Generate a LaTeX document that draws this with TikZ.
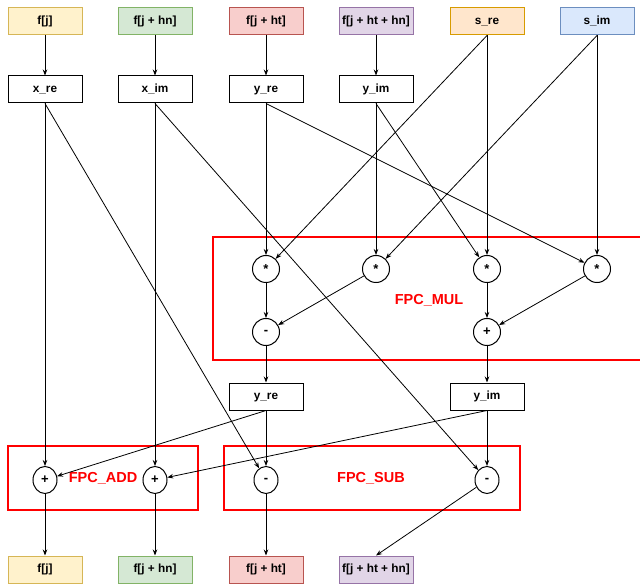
\documentclass[tikz,border=0pt]{standalone}
\usepackage{fontspec}
\setmainfont{Liberation Sans}
\usetikzlibrary{arrows.meta,shapes.geometric}
\definecolor{yfill}{HTML}{FFF2CC}\definecolor{ydraw}{HTML}{D6B656}
\definecolor{gfill}{HTML}{D5E8D4}\definecolor{gdraw}{HTML}{82B366}
\definecolor{rfill}{HTML}{F8CECC}\definecolor{rdraw}{HTML}{B85450}
\definecolor{pfill}{HTML}{E1D5E7}\definecolor{pdraw}{HTML}{9673A6}
\definecolor{ofill}{HTML}{FFE6CC}\definecolor{odraw}{HTML}{D79B00}
\definecolor{bfill}{HTML}{DAE8FC}\definecolor{bdraw}{HTML}{6C8EBF}
\tikzset{
  box/.style={draw, line width=1pt, minimum width=74pt, minimum height=27pt, inner sep=0pt,
    text height=8.5pt, text depth=2.5pt,
    font=\fontsize{11.8}{12}\selectfont\bfseries},
  op/.style={draw, circle, line width=1pt, minimum size=27pt, inner sep=0pt,
    font=\fontsize{13}{13}\selectfont\bfseries},
  opb/.style={draw, ellipse, line width=1pt, minimum width=24pt, minimum height=27pt, inner sep=0pt,
    font=\fontsize{13}{13}\selectfont\bfseries},
  grp/.style={draw=red, line width=2pt},
  grplabel/.style={text=red, font=\fontsize{14.5}{15}\selectfont\bfseries},
  arr/.style={-{Stealth[length=6pt,width=4.5pt]}, line width=0.8pt}
}
\begin{document}
\begin{tikzpicture}[x=1pt,y=-1pt]
\useasboundingbox (0,0) rectangle (640,585);
% group boxes
\draw[grp] (213,237) rectangle (646,360);
\draw[grp] (8,446) rectangle (198,510);
\draw[grp] (224,446) rectangle (520,510);
\node[grplabel] (lmul) at (429,300) {FPC\_MUL};
\node[grplabel] (ladd) at (103,478) {FPC\_ADD};
\node[grplabel] (lsub) at (371,478) {FPC\_SUB};
% top inputs
\node[box, fill=yfill, draw=ydraw] (t1) at (45,21.5) {f[j]};
\node[box, fill=gfill, draw=gdraw] (t2) at (155,21.5) {f[j + hn]};
\node[box, fill=rfill, draw=rdraw] (t3) at (266,21.5) {f[j + ht]};
\node[box, fill=pfill, draw=pdraw] (t4) at (376,21.5) {f[j + ht + hn]};
\node[box, fill=ofill, draw=odraw] (sre) at (487,21.5) {s\_re};
\node[box, fill=bfill, draw=bdraw] (sim) at (597,21.5) {s\_im};
% second row
\node[box] (xre) at (45,89.5) {x\_re};
\node[box] (xim) at (155,89.5) {x\_im};
\node[box] (yre) at (266,89.5) {y\_re};
\node[box] (yim) at (376,89.5) {y\_im};
% multiplications
\node[op] (m1) at (266,269) {*};
\node[op] (m2) at (376,269) {*};
\node[op] (m3) at (487,269) {*};
\node[op] (m4) at (597,269) {*};
\node[op] (mm) at (266,332) {-};
\node[op] (mp) at (487,332) {+};
% middle boxes
\node[box] (yre2) at (266,396.5) {y\_re};
\node[box] (yim2) at (487,396.5) {y\_im};
% add/sub
\node[opb] (a1) at (45,480) {+};
\node[opb] (a2) at (155,480) {+};
\node[opb] (s1) at (266,480) {-};
\node[opb] (s2) at (487,480) {-};
% outputs
\node[box, fill=yfill, draw=ydraw] (b1) at (45,569.5) {f[j]};
\node[box, fill=gfill, draw=gdraw] (b2) at (155,569.5) {f[j + hn]};
\node[box, fill=rfill, draw=rdraw] (b3) at (266,569.5) {f[j + ht]};
\node[box, fill=pfill, draw=pdraw] (b4) at (376,569.5) {f[j + ht + hn]};
% connectors
\draw[arr] (t1) -- (xre);
\draw[arr] (t2) -- (xim);
\draw[arr] (t3) -- (yre);
\draw[arr] (t4) -- (yim);
\draw[arr] (xre) -- (a1);
\draw[arr] (xre.south) -- (s1);
\draw[arr] (xim) -- (a2);
\draw[arr] (xim.south) -- (s2);
\draw[arr] (yre) -- (m1);
\draw[arr] (yre.south) -- (m4);
\draw[arr] (yim) -- (m2);
\draw[arr] (yim.south) -- (m3);
\draw[arr] (sre.south) -- (m1);
\draw[arr] (sre) -- (m3);
\draw[arr] (sim.south) -- (m2);
\draw[arr] (sim) -- (m4);
\draw[arr] (m1) -- (mm);
\draw[arr] (m2) -- (mm);
\draw[arr] (m3) -- (mp);
\draw[arr] (m4) -- (mp);
\draw[arr] (mm) -- (yre2);
\draw[arr] (mp) -- (yim2);
\draw[arr] (yre2) -- (s1);
\draw[arr] (yre2.south) -- (a1);
\draw[arr] (yim2) -- (s2);
\draw[arr] (yim2.south) -- (a2);
\draw[arr] (a1) -- (b1);
\draw[arr] (a2) -- (b2);
\draw[arr] (s1) -- (b3);
\draw[arr] (s2) -- (b4.north);
\end{tikzpicture}
\end{document}
